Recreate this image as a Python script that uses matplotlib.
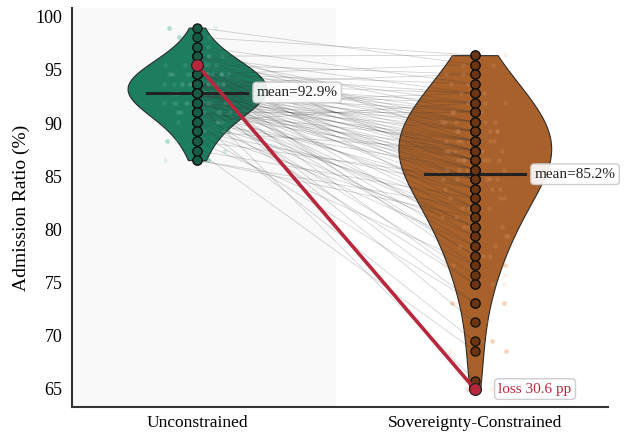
import numpy as np
import matplotlib
matplotlib.use("Agg")
import matplotlib.pyplot as plt

# -----------------------------
# Data: paired admission ratios (%)
# -----------------------------
categories = ["Unconstrained", "Sovereignty-Constrained"]

unconstrained = [
    99.0, 98.1, 97.2, 97.2,
    96.3, 96.3, 96.3, 96.3, 96.3,
    95.5, 95.5, 95.5, 95.5, 95.5, 95.5,
    94.6, 94.6, 94.6, 94.6, 94.6, 94.6, 94.6, 94.6, 94.6, 94.6, 94.6, 94.6, 94.6,
    93.7, 93.7, 93.7, 93.7, 93.7, 93.7, 93.7, 93.7, 93.7, 93.7, 93.7, 93.7, 93.7, 93.7, 93.7, 93.7,
    92.8, 92.8, 92.8, 92.8, 92.8, 92.8, 92.8, 92.8, 92.8, 92.8, 92.8, 92.8, 92.8, 92.8, 92.8, 92.8,
    91.9, 91.9, 91.9, 91.9, 91.9, 91.9, 91.9, 91.9, 91.9, 91.9, 91.9,
    91.0, 91.0, 91.0, 91.0, 91.0, 91.0, 91.0, 91.0,
    90.1, 90.1, 90.1, 90.1, 90.1,
    89.2, 89.2, 89.2, 89.2,
    88.3, 88.3, 87.4, 87.4, 86.5, 86.5,
]

constrained = [
    95.5, 96.4, 93.7, 88.3,
    96.4, 91.0, 85.6, 92.8, 89.2,
    64.9, 94.6, 90.1, 86.5, 82.0, 91.9,
    95.5, 92.8, 88.3, 87.4, 84.7, 91.0, 79.3, 90.1, 86.5, 83.8, 89.2, 76.6, 93.7,
    94.6, 91.9, 88.3, 85.6, 87.4, 82.9, 90.1, 74.8, 86.5, 89.2, 81.1, 92.8, 84.7, 77.5, 78.4, 91.0,
    91.9, 87.4, 84.7, 89.2, 80.2, 86.5, 73.0, 90.1, 83.8, 88.3, 82.0, 85.6, 77.5, 91.0, 87.4, 71.2,
    92.8, 86.5, 82.9, 89.2, 65.7, 84.7, 88.3, 80.2, 90.1, 75.7, 85.6,
    87.4, 83.8, 91.0, 81.1, 86.5, 74.8, 88.3, 79.3,
    91.9, 82.0, 85.6, 78.4, 69.4,
    87.4, 83.8, 80.2, 73.0,
    84.7, 76.6, 82.9, 68.5, 81.1, 82.0,
]

u = np.array(unconstrained)
c = np.array(constrained)

fill_colors = ["#1d7d60", "#a8612a"]
bead_colors = ["#165c45", "#6a3512"]
jitter_colors = ["#7cc7ad", "#f0b48a"]
red = "#b8283c"

plt.rcParams["font.family"] = ["Liberation Serif", "DejaVu Serif"]

fig = plt.figure(figsize=(6.25, 4.34), dpi=100)
ax = fig.add_axes([0.1152, 0.062, 0.8578, 0.9196])

ax.set_xlim(-0.45, 1.48)
ax.set_ylim(63.2, 100.85)

# light panel behind the first group
ax.axvspan(-0.45, 0.5, color="#f5f5f5", alpha=0.5, lw=0, zorder=0)

# faint jittered raw points (mostly hidden behind the violins)
rng = np.random.default_rng(3)
for i, vals in enumerate([u, c]):
    xj = i + rng.uniform(-0.12, 0.12, len(vals))
    ax.scatter(xj, vals, s=12, color=jitter_colors[i], alpha=0.55, lw=0, zorder=1)

# -----------------------------
# Violins
# -----------------------------
bws = [0.75, 0.45]
for i, vals in enumerate([u, c]):
    parts = ax.violinplot(vals, positions=[i], widths=[0.5, 0.55][i],
                          showextrema=False, bw_method=bws[i])
    for body in parts["bodies"]:
        body.set_facecolor(fill_colors[i])
        body.set_edgecolor("#2b2b2b")
        body.set_linewidth(0.8)
        body.set_alpha(1)
        body.set_zorder(2)

# -----------------------------
# Paired lines
# -----------------------------
for a, b in zip(u, c):
    ax.plot([0, 1], [a, b], color="#333333", alpha=0.22, lw=0.6, zorder=3)

# a few faint points show through the fill
for i, vals in enumerate([u, c]):
    xj = i + rng.uniform(-0.12, 0.12, len(vals))
    ax.scatter(xj, vals, s=10, color=jitter_colors[i], alpha=0.18, lw=0, zorder=4)

# mean bars and labels
for i, vals in enumerate([u, c]):
    m = vals.mean()
    ax.plot([i - 0.18, i + 0.18], [m, m], color="#222222", lw=2.2, zorder=5)
    ax.text(i + 0.215, m, f"mean={m:.1f}%", fontsize=11, va="center", ha="left",
            color="#222222", zorder=8,
            bbox=dict(boxstyle="round,pad=0.25", fc="white", ec="#c8c8c8", alpha=0.9))

# beads on the centre line
for i, vals in enumerate([u, c]):
    ax.plot(np.full(len(vals), i), vals, "o", ms=6.6, mfc=bead_colors[i],
            mec="#111111", mew=0.9, ls="none", zorder=6)

# largest loss highlighted
k = np.argmax(u - c)
loss = u[k] - c[k]
ax.plot([0, 1], [u[k], c[k]], color=red, lw=2.6, zorder=7)
ax.plot([0, 1], [u[k], c[k]], "o", ms=8.5, mfc=red, mec="#222222", mew=0.9,
        ls="none", zorder=7)
ax.text(1.085, c[k], f"loss {loss:.1f} pp", fontsize=11, color=red,
        va="center", ha="left", zorder=8,
        bbox=dict(boxstyle="round,pad=0.25", fc="white", ec="#c8c8c8", alpha=0.9))

# -----------------------------
# Axes styling
# -----------------------------
ax.set_xticks([0, 1])
ax.set_xticklabels(categories, fontsize=12.5)
ax.set_yticks([65, 70, 75, 80, 85, 90, 95, 100])
ax.tick_params(axis="y", labelsize=13, length=0, pad=7)
ax.tick_params(axis="x", length=0, pad=6)
ax.set_ylabel("Admission Ratio (%)", fontsize=14)
for side in ["top", "right"]:
    ax.spines[side].set_visible(False)
for side in ["left", "bottom"]:
    ax.spines[side].set_color("#333333")
    ax.spines[side].set_linewidth(1.5)
ax.set_facecolor("white")

fig.savefig("out.png", dpi=100)
